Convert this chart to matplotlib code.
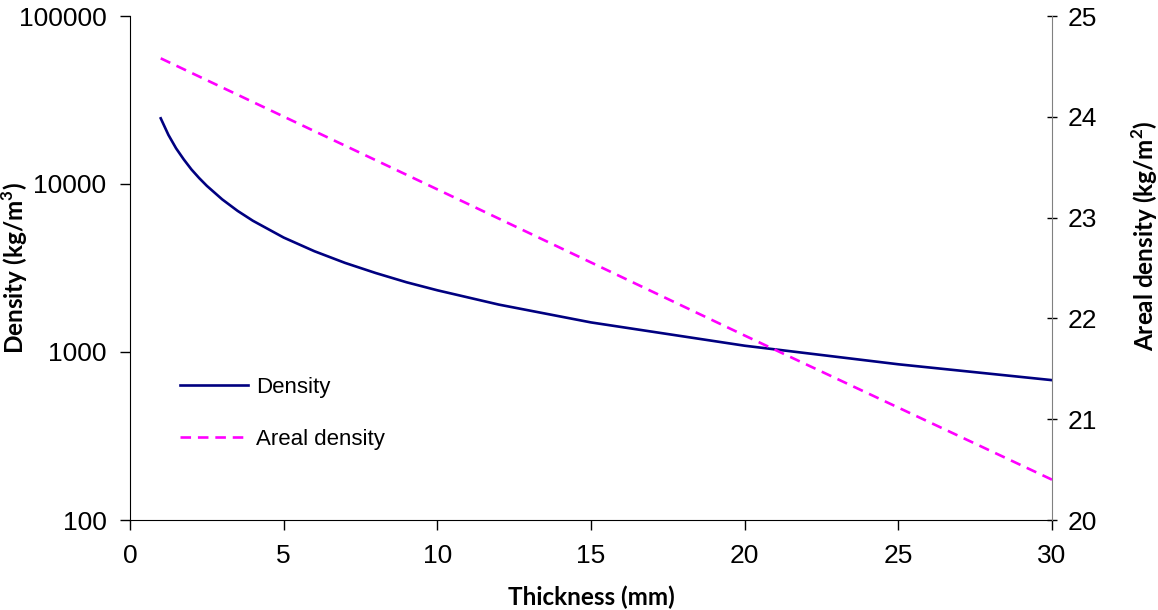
import matplotlib.pyplot as plt

# thickness (mm)
thickness = [1, 1.25, 1.5, 1.75, 2, 2.25, 2.5, 3, 3.5, 4, 5, 6, 7, 8, 9,
             10, 12, 15, 20, 25, 30]
# density (kg/m3)
density = [24600, 19600, 16300, 14000, 12200, 10850, 9750, 8100, 6920, 6040,
           4800, 3980, 3390, 2950, 2600, 2330, 1915, 1500, 1090, 845, 680]
# areal density (kg/m2), straight line on right axis
areal_x = [1, 10, 20, 30]
areal = [24.58, 23.28, 21.83, 20.40]

plt.rcParams['font.family'] = ['Liberation Sans', 'DejaVu Sans']

fig = plt.figure(figsize=(11.58, 6.1), dpi=100)
ax = fig.add_axes([130 / 1158, 90 / 610, (1052 - 130) / 1158, (520 - 16) / 610])
ax2 = ax.twinx()

l1, = ax.plot(thickness, density, color='#000080', lw=1.9, label='Density')
l2, = ax2.plot(areal_x, areal, color='#ff00ff', lw=1.9, ls=(0, (4, 2.6)),
               label='Areal density')

ax.set_yscale('log')
ax.set_ylim(100, 100000)
ax.set_xlim(0, 30)
ax.set_xticks([0, 5, 10, 15, 20, 25, 30])
ax.set_yticks([100, 1000, 10000, 100000])
ax.set_yticklabels(['100', '1000', '10000', '100000'])
ax.minorticks_off()
ax2.set_ylim(20, 25)
ax2.set_yticks([20, 21, 22, 23, 24, 25])

for a in (ax, ax2):
    a.spines['top'].set_visible(False)
ax.spines['right'].set_visible(False)
ax2.spines['left'].set_visible(False)
ax2.spines['bottom'].set_visible(False)
ax2.spines['right'].set_color('#808080')

ax.tick_params(axis='both', labelsize=19, length=7, width=1, direction='out',
               pad=10)
ax2.tick_params(axis='y', labelsize=19, length=7, width=1, direction='inout',
                pad=8)

lab = dict(family=['Lato', 'DejaVu Sans'], fontweight='bold', fontsize=17.5)
ax.set_xlabel('Thickness (mm)', **lab)
ax.set_ylabel('Density (kg/m$^\\mathregular{3}$)', **lab)
ax2.set_ylabel('Areal density (kg/m$^\\mathregular{2}$)', **lab)
ax.xaxis.set_label_coords(0.5, -0.153)
ax.yaxis.set_label_coords(-0.1247, 0.5)
ax2.yaxis.set_label_coords(1.1009, 0.565)
ax.xaxis.label.set_va('center')
ax.yaxis.label.set_va('center')
ax2.yaxis.label.set_va('center')

ax.legend(handles=[l1, l2], loc='center left', bbox_to_anchor=(0.045, 0.211),
          borderaxespad=0, frameon=False, fontsize=16, handlelength=3.06,
          labelspacing=1.4, handletextpad=0.35)

fig.savefig('out.png', dpi=100)
